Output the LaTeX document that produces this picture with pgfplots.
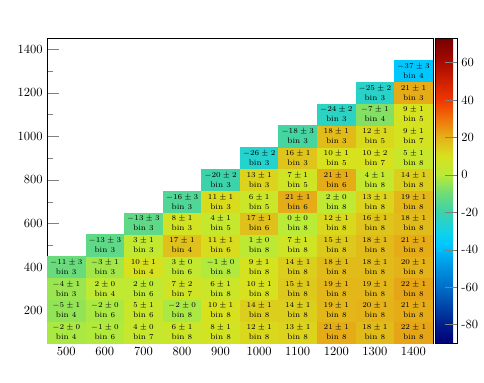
\documentclass[border=0pt]{standalone}
\usepackage{pgfplots}
\usepackage{pgfplotstable}
\pgfplotsset{compat=1.18}

% jet-like map (position = value + 90)
\pgfplotsset{colormap={refjet}{
  rgb255(0pt)=(0,0,120)
  rgb255(10pt)=(0,30,140)
  rgb255(20pt)=(0,70,170)
  rgb255(30pt)=(0,110,200)
  rgb255(40pt)=(0,145,225)
  rgb255(53pt)=(0,200,255)
  rgb255(60pt)=(20,210,230)
  rgb255(70pt)=(60,210,170)
  rgb255(80pt)=(110,220,120)
  rgb255(90pt)=(185,235,55)
  rgb255(100pt)=(215,225,30)
  rgb255(110pt)=(228,178,25)
  rgb255(120pt)=(240,115,10)
  rgb255(130pt)=(240,55,0)
  rgb255(150pt)=(170,10,0)
  rgb255(163pt)=(120,0,0)
}}

% x y value error bin
\pgfplotstableread{
x y v e b
500 100 -2 0 4
500 200 -5 1 4
500 300 -4 1 3
500 400 -11 3 3
600 100 -1 0 6
600 200 -2 0 6
600 300 2 0 4
600 400 -3 1 3
600 500 -13 3 3
700 100 4 0 7
700 200 5 1 6
700 300 2 0 6
700 400 10 1 4
700 500 3 1 3
700 600 -13 3 3
800 100 6 1 8
800 200 -2 0 8
800 300 7 2 7
800 400 3 0 6
800 500 17 1 4
800 600 8 1 3
800 700 -16 3 3
900 100 8 1 8
900 200 10 1 8
900 300 6 1 8
900 400 -1 0 8
900 500 11 1 6
900 600 4 1 5
900 700 11 1 3
900 800 -20 2 3
1000 100 12 1 8
1000 200 14 1 8
1000 300 10 1 8
1000 400 9 1 8
1000 500 1 0 8
1000 600 17 1 6
1000 700 6 1 5
1000 800 13 1 3
1000 900 -26 2 3
1100 100 13 1 8
1100 200 14 1 8
1100 300 15 1 8
1100 400 14 1 8
1100 500 7 1 8
1100 600 0 0 8
1100 700 21 1 6
1100 800 7 1 5
1100 900 16 1 3
1100 1000 -18 3 3
1200 100 21 1 8
1200 200 19 1 8
1200 300 19 1 8
1200 400 18 1 8
1200 500 15 1 8
1200 600 12 1 8
1200 700 2 0 8
1200 800 21 1 6
1200 900 10 1 5
1200 1000 18 1 3
1200 1100 -24 2 3
1300 100 18 1 8
1300 200 20 1 8
1300 300 19 1 8
1300 400 18 1 8
1300 500 18 1 8
1300 600 16 1 8
1300 700 13 1 8
1300 800 4 1 8
1300 900 10 2 7
1300 1000 12 1 5
1300 1100 -7 1 4
1300 1200 -25 2 3
1400 100 22 1 8
1400 200 21 1 8
1400 300 22 1 8
1400 400 20 1 8
1400 500 21 1 8
1400 600 18 1 8
1400 700 19 1 8
1400 800 14 1 8
1400 900 5 1 8
1400 1000 9 1 7
1400 1100 9 1 5
1400 1200 21 1 3
1400 1300 -37 3 4
}\cells

\begin{document}
\begin{tikzpicture}
\useasboundingbox (-37.6pt,-31pt) rectangle (349.6pt,274.6pt);
\begin{axis}[
  scale only axis,
  width=308.6pt,
  height=244pt,
  xmin=450, xmax=1450,
  ymin=50, ymax=1450,
  xtick={500,600,...,1400},
  ytick={200,400,...,1400},
  minor ytick={100,300,...,1300},
  ytick pos=left,
  xtick style={draw=none},
  major tick length=9.5pt,
  minor tick length=4.8pt,
  scaled ticks=false,
  /pgf/number format/1000 sep={},
  axis on top,
  colormap name=refjet,
  point meta min=-90,
  point meta max=73,
  colorbar,
  colorbar shift/.style={xshift=1.8pt},
  colorbar style={
    width=17.4pt,
    ytick={-80,-60,...,60},
    ytick pos=right,
    major tick length=9.5pt,
    /pgf/number format/assume math mode=true,
  },
]
% cells: 100 x 100 units = 30.86pt x 17.43pt
\addplot[scatter, only marks, mark=square*,
  mark size=15.23pt,
  mark options={yscale=0.5591, line width=0.4pt},
  scatter/use mapped color={draw=mapped color, fill=mapped color},
  point meta=\thisrow{v},
] table {\cells};
% labels
\addplot[only marks, mark=*, mark size=0pt,
  mark options={draw=none, fill=none},
  point meta=\thisrow{v},
  visualization depends on={\thisrow{e}\as\err},
  visualization depends on={\thisrow{b}\as\bin},
  nodes near coords={$\pgfmathprintnumber{\pgfplotspointmeta}\pm\pgfmathprintnumber{\err}$\\bin \pgfmathprintnumber{\bin}},
  every node near coord/.append style={align=center, anchor=center,
    text=black, inner sep=0pt, font=\fontsize{6.5}{8}\selectfont},
] table {\cells};
\end{axis}
\end{tikzpicture}
\end{document}
